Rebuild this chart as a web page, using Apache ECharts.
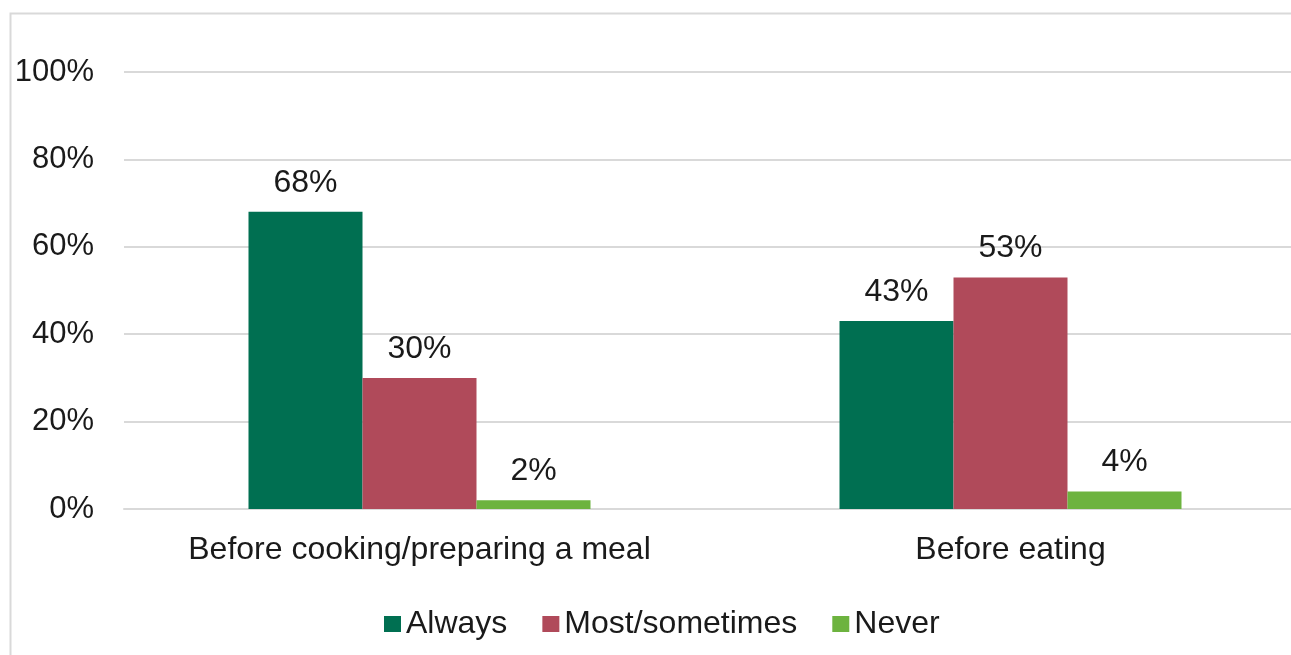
<!DOCTYPE html>
<html>
<head>
<meta charset="utf-8">
<script src="https://cdn.jsdelivr.net/npm/echarts@6/dist/echarts.min.js"></script>
<style>html,body{margin:0;padding:0;background:#fff;}#c{width:1291px;height:655px;}</style>
</head>
<body>
<div id="c"></div>
<script>
const categories = ['Before cooking/preparing a meal', 'Before eating'];
const seriesNames = ['Always', 'Most/sometimes', 'Never'];
const always = [68, 43];
const mostSometimes = [30, 53];
const never = [2, 4];
const colors = ['#006F51', '#B04A5A', '#6DB33F'];

const chart = echarts.init(document.getElementById('c'), null, {renderer: 'canvas'});
const font = 'Liberation Sans, Arial, sans-serif';
const labelCfg = {show: true, position: 'top', distance: 13, formatter: '{c}%', color: '#1a1a1a', fontSize: 32, fontFamily: font};
const mk = (name, data, color) => ({
  name, type: 'bar', data, barWidth: 114, barGap: '0%',
  itemStyle: {color}, label: labelCfg
});
chart.setOption({
  animation: false,
  textStyle: {fontFamily: font},
  graphic: [{type: 'rect', shape: {x: 10.5, y: 13.5, width: 1400, height: 800}, style: {fill: 'none', stroke: '#d9d9d9', lineWidth: 2}, silent: true, z: -1}],
  grid: {left: 124, top: 72, width: 1182, height: 437, containLabel: false, outerBoundsMode: 'none'},
  legend: {
    data: seriesNames, bottom: 10, left: 379, itemWidth: 17, itemHeight: 16, itemGap: 35,
    textStyle: {fontSize: 32, color: '#1a1a1a', fontFamily: font}, icon: 'rect'
  },
  xAxis: {
    type: 'category', data: categories,
    axisLine: {show: true, lineStyle: {color: '#d9d9d9', width: 2}},
    axisTick: {show: false},
    axisLabel: {fontSize: 32, color: '#1a1a1a', margin: 25, fontFamily: font, interval: 0, hideOverlap: false, showMaxLabel: true, showMinLabel: true}
  },
  yAxis: {
    type: 'value', min: 0, max: 100, interval: 20,
    axisLine: {show: false}, axisTick: {show: false},
    splitLine: {lineStyle: {color: '#d9d9d9', width: 2}},
    axisLabel: {formatter: '{value}%', fontSize: 31, color: '#1a1a1a', margin: 30, fontFamily: font}
  },
  series: [
    mk(seriesNames[0], always, colors[0]),
    mk(seriesNames[1], mostSometimes, colors[1]),
    mk(seriesNames[2], never, colors[2])
  ]
});
</script>
</body>
</html>
